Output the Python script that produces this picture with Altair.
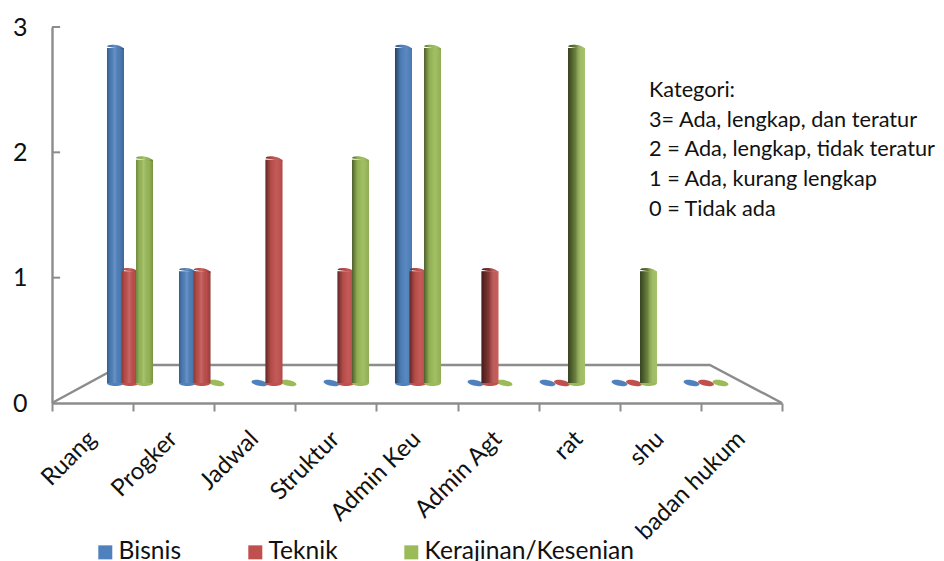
import altair as alt
import pandas as pd

categories = ["Ruang", "Progker", "Jadwal", "Struktur", "Admin Keu", "Admin Agt", "rat", "shu", "badan hukum"]
series_names = ["Bisnis", "Teknik", "Kerajinan/Kesenian"]
bisnis = [3, 1, 0, 0, 3, 0, 0, 0, 0]
teknik = [1, 1, 2, 1, 1, 1, 0, 0, 0]
kerajinan = [2, 0, 0, 2, 3, 0, 3, 1, 0]
series_colors = ["#4F81BD", "#C0504D", "#9BBB59"]
lighting = ["front", "front", "mid", "mid", "mid", "side", "side", "side", "side"]
notes = ["Kategori:", "3= Ada, lengkap, dan teratur", "2 = Ada, lengkap, tidak teratur",
         "1 = Ada, kurang lengkap", "0 = Tidak ada"]
y_ticks = [0, 1, 2, 3]
x_ticks = [0, 1, 2, 3, 4, 5, 6, 7, 8, 9]
floor_x = [0, 0.863, 8.11, 9]
floor_y = [0, 0.303, 0.303, 0]

FONT = "Lato"
PLOT_W, PLOT_H = 730, 376
GREY = "#8c8c8c"
ELLIPSE = "M-1,0 A1,0.36 0 1,1 1,0 A1,0.36 0 1,1 -1,0 Z"
TOP_HALF = "M-1,0 A1,0.36 0 0,1 1,0 Z"
BOTTOM_HALF = "M-1,0 A1,0.36 0 0,0 1,0 Z"
BAR_W = 17
CAP_SIZE = BAR_W ** 2

rows = []
for i, cat in enumerate(categories):
    for name, vals in zip(series_names, [bisnis, teknik, kerajinan]):
        rows.append({"cat": cat, "series": name, "value": vals[i], "light": lighting[i]})
df = pd.DataFrame(rows)
floor = pd.DataFrame({"x": floor_x, "y": floor_y, "i": range(len(floor_x))})

x_q = alt.Scale(domain=[0, 9], range=[0, PLOT_W], nice=False, zero=False)
y_q = alt.Scale(domain=[0, 3], range=[PLOT_H, 0], nice=False, zero=False)
# bars stand on the raised, compressed 3-D plane
x_bars = alt.Scale(domain=categories, range=[42, 690], paddingInner=0, paddingOuter=0)
y_bars = alt.Scale(domain=[0, 3], range=[356, 21], nice=False, zero=False)
off = alt.Scale(domain=series_names, paddingInner=0, paddingOuter=0.98)
color = alt.Color(
    "series:N",
    scale=alt.Scale(domain=series_names, range=series_colors),
    legend=alt.Legend(
        title=None, orient="none", legendX=41, legendY=513, direction="horizontal", columns=3,
        symbolType="square", symbolSize=196, symbolStrokeWidth=0, labelFont=FONT, labelFontSize=24.6,
        labelColor="#111111", labelOffset=1, columnPadding=61, labelLimit=400,
    ),
)


def pos(stack_field="value:Q"):
    return dict(
        x=alt.X("cat:N", scale=x_bars, axis=None),
        xOffset=alt.XOffset("series:N", scale=off),
        y=alt.Y(stack_field, scale=y_bars, axis=None, stack=None),
    )


def grad(stops):
    return alt.Gradient(
        gradient="linear", x1=0, x2=1, y1=0, y2=0,
        stops=[alt.GradientStop(color=c, offset=o) for o, c in stops],
    )


gradients = {
    "front": grad([(0, "rgba(0,0,0,0.28)"), (0.2, "rgba(0,0,0,0.06)"), (0.45, "rgba(255,255,255,0.14)"),
                   (0.75, "rgba(0,0,0,0.04)"), (1, "rgba(0,0,0,0.22)")]),
    "mid": grad([(0, "rgba(0,0,0,0.5)"), (0.3, "rgba(0,0,0,0.08)"), (0.65, "rgba(255,255,255,0.06)"),
                 (1, "rgba(0,0,0,0.08)")]),
    "side": grad([(0, "rgba(0,0,0,0.65)"), (0.45, "rgba(0,0,0,0.3)"), (0.85, "rgba(255,255,255,0.05)"),
                  (1, "rgba(255,255,255,0.1)")]),
}

base = alt.Chart(df)
floor_line = alt.Chart(floor).mark_line(color=GREY, strokeWidth=2.4).encode(
    x=alt.X("x:Q", scale=x_q, axis=None),
    y=alt.Y("y:Q", scale=y_q, axis=None),
    order="i:Q",
)
x_axis_layer = alt.Chart(pd.DataFrame({"t": x_ticks})).mark_rule(opacity=0).encode(
    x=alt.X("t:Q", scale=x_q, axis=alt.Axis(
        orient="bottom", values=x_ticks, labels=False, title=None, grid=False, domainColor=GREY, domainWidth=2.4,
        tickColor=GREY, tickWidth=2, tickSize=8)),
)
label_layer = alt.Chart(pd.DataFrame({"cat": categories})).mark_rule(opacity=0).encode(
    x=alt.X("cat:N", sort=categories,
            scale=alt.Scale(domain=categories, range=[0, PLOT_W], paddingInner=0, paddingOuter=0),
            axis=alt.Axis(orient="bottom", title=None, ticks=False, domain=False, grid=False, labelAngle=-45,
                          labelAlign="right", labelBaseline="middle", labelFont=FONT, labelFontSize=24,
                          labelColor="#111111", labelPadding=32, labelOverlap=False, labelBound=False,
                          labelLimit=400)),
)
y_axis_layer = alt.Chart(pd.DataFrame({"t": y_ticks})).mark_rule(color=GREY, strokeWidth=2).transform_filter(
    "datum.t > 0"
).transform_calculate(a="0", b="0.1").encode(
    x=alt.X("a:Q", scale=x_q, axis=None),
    x2="b:Q",
    y=alt.Y("t:Q", scale=y_q, axis=alt.Axis(
        values=y_ticks, title=None, grid=False, ticks=False, domainColor=GREY, domainWidth=2.4,
        labelFont=FONT, labelFontSize=25, labelColor="#111111", labelPadding=25, format="d",
        labelBound=False, labelFlush=False)),
)

base_ellipses = base.mark_point(shape=ELLIPSE, filled=True, size=260, opacity=1, strokeWidth=0, angle=10).encode(
    color=color, **pos()
).transform_filter("datum.value == 0")
bottom_caps = base.transform_filter("datum.value > 0").transform_calculate(b="0").mark_point(
    shape=BOTTOM_HALF, filled=True, size=CAP_SIZE, opacity=1, strokeWidth=0
).encode(color=color, **pos("b:Q"))
bars = base.transform_filter("datum.value > 0").mark_bar(width=BAR_W).encode(color=color, **pos())
top_caps = base.transform_filter("datum.value > 0").mark_point(
    shape=TOP_HALF, filled=True, size=CAP_SIZE, opacity=1, strokeWidth=0, angle=10
).encode(color=color, **pos())

sections = []
for i, name in enumerate(series_names):
    layer_filter = f"datum.series == '{name}' && datum.value > 0"
    sec = [
        bottom_caps.transform_filter(layer_filter),
        bars.transform_filter(layer_filter),
        top_caps.transform_filter(layer_filter),
    ]
    for light, g in gradients.items():
        f = f"{layer_filter} && datum.light == '{light}'"
        sec.append(base.transform_filter(f).mark_bar(color=g, width=BAR_W).encode(**pos()))
        sec.append(base.transform_filter(f).mark_point(
            shape=TOP_HALF, filled=True, fill=g, size=CAP_SIZE, opacity=1, strokeWidth=0, angle=10).encode(**pos()))
    sections.extend(sec)

note_layer = alt.Chart(pd.DataFrame({"t": ["\n".join(notes)]})).mark_text(
    lineBreak="\n", lineHeight=29.7, align="left", baseline="top", font=FONT, fontSize=21.7, color="#111111"
).encode(x=alt.value(597), y=alt.value(53), text="t:N")

chart = alt.layer(
    floor_line, x_axis_layer, label_layer, y_axis_layer, base_ellipses, *sections, note_layer
).resolve_scale(x="independent", y="independent").properties(
    width=PLOT_W, height=PLOT_H,
    autosize=alt.AutoSizeParams(type="none"),
    padding={"left": 44, "top": 19, "right": 154, "bottom": 158},
    background="white",
).configure_view(stroke=None)

chart.save("out.html", embed_options={"renderer": "svg", "actions": False})
